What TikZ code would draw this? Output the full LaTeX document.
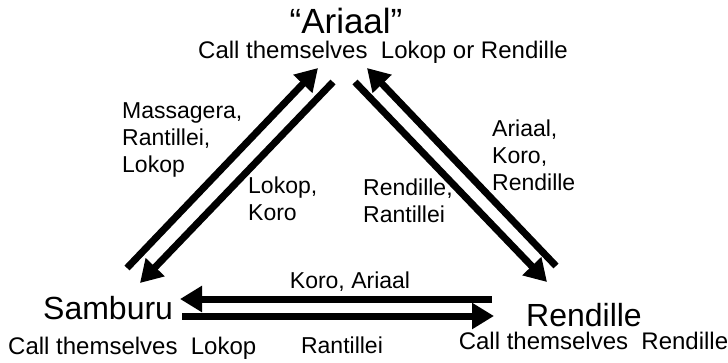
\documentclass[tikz,border=0pt]{standalone}
\usepackage{fontspec}
\setmainfont{Liberation Sans}
\usetikzlibrary{arrows.meta}
\tikzset{
  big/.style={inner sep=0pt, font=\fontsize{32}{36}\selectfont},
  small/.style={inner sep=0pt, font=\fontsize{23}{27}\selectfont, align=left},
  selfname/.style={inner sep=0pt, font=\fontsize{24}{28}\selectfont},
  fat/.style={line width=7pt, -{Triangle[length=22pt,width=25pt]}},
}
\begin{document}
\begin{tikzpicture}[x=1pt,y=-1pt]
\useasboundingbox (0,0) rectangle (728,362);
% main labels
\node[big, font=\fontsize{35}{38}\selectfont, anchor=base] (ariaal) at (346,33) {“Ariaal”};
\node[selfname, anchor=base] (ariaalself) at (383,58) {Call themselves\ \ Lokop or Rendille};
\node[big, anchor=base west] (samburu) at (43,319) {Samburu};
\node[selfname, anchor=base west] (samburuself) at (8,354) {Call themselves\ \ Lokop};
\node[big, anchor=base west] (rendille) at (526,326) {Rendille};
\node[selfname, anchor=base] (rendilleself) at (593.5,349) {Call themselves\ \ Rendille};
% edge labels (base = baseline of last line)
\node[small, anchor=base west] (l1) at (122,172) {Massagera,\\Rantillei,\\Lokop};
\node[small, anchor=base west] (l2) at (248,220) {Lokop,\\Koro};
\node[small, anchor=base west] (l3) at (363,222) {Rendille,\\Rantillei};
\node[small, anchor=base west] (l4) at (492,190) {Ariaal,\\Koro,\\Rendille};
\node[small, anchor=base] (l5) at (350,288) {Koro, Ariaal};
\node[small, anchor=base] (l6) at (342,353) {Rantillei};
% arrow endpoints
\coordinate (su1) at (127,268); \coordinate (au1) at (318,68);
\coordinate (ad1) at (333,82);  \coordinate (sd1) at (140,283);
\coordinate (ad2) at (355,82);  \coordinate (rd2) at (547,282);
\coordinate (ru2) at (556,266); \coordinate (au2) at (367,68);
\coordinate (rl3) at (492,299); \coordinate (sl3) at (180,299);
\coordinate (sr3) at (182,316); \coordinate (rr3) at (494,316);
\draw[fat] (su1) -- (au1);
\draw[fat] (ad1) -- (sd1);
\draw[fat] (ad2) -- (rd2);
\draw[fat] (ru2) -- (au2);
\draw[fat] (rl3) -- (sl3);
\draw[fat] (sr3) -- (rr3);
\end{tikzpicture}
\end{document}
